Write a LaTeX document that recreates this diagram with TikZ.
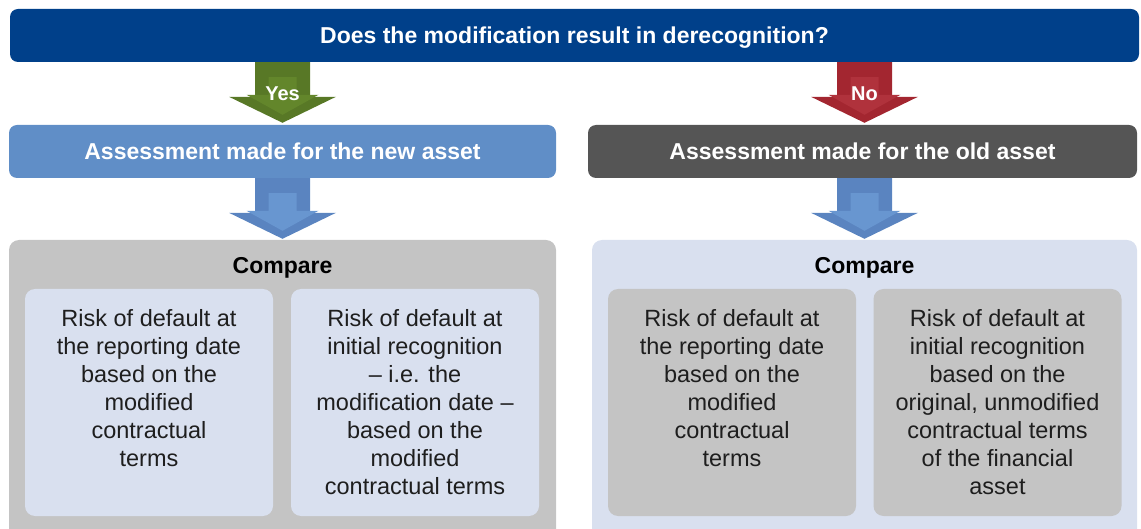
\documentclass[tikz,border=0pt]{standalone}
\usepackage{fontspec}
\setmainfont{Liberation Sans}
\usetikzlibrary{calc}
\definecolor{topblue}{RGB}{0,64,138}
\definecolor{newblue}{RGB}{96,142,199}
\definecolor{oldgray}{RGB}{85,85,85}
\definecolor{boxgray}{RGB}{196,196,196}
\definecolor{paleblue}{RGB}{217,224,239}
\definecolor{yesdark}{RGB}{88,120,38}
\definecolor{yeslight}{RGB}{99,134,43}
\definecolor{nodark}{RGB}{163,38,48}
\definecolor{nolight}{RGB}{176,50,60}
\definecolor{arrdark}{RGB}{90,132,192}
\definecolor{arrlight}{RGB}{104,150,208}
\definecolor{txtgray}{RGB}{30,30,30}
\tikzset{
  head/.style={rounded corners=8pt,inner sep=0,minimum height=53pt,text=white,
    text height=17pt,text depth=0pt,font=\fontsize{23}{28}\selectfont\bfseries},
  frame/.style={rounded corners=10pt,inner sep=0,minimum height=305pt},
  cell/.style={rounded corners=10pt,inner sep=0,minimum width=248pt,minimum height=227pt},
  cmp/.style={inner sep=0,text height=17pt,text depth=0pt,
    font=\fontsize{23}{28}\selectfont\bfseries,text=black},
  txt/.style={inner sep=0,align=center,anchor=north,text=txtgray,
    font=\fontsize{23.5}{28}\selectfont},
  arrlbl/.style={inner sep=0,text=white,text height=14pt,text depth=0pt,
    font=\fontsize{20}{24}\selectfont\bfseries}
}
\newcommand{\blockarrow}[4]{%
  \fill[#3] let \p1=(#1), \p2=(#2) in
    (\x1-27.5pt,\y1) -- (\x1+27.5pt,\y1) -- (\x1+27.5pt,\y2+26pt) -- (\x1+53.5pt,\y2+26pt)
    -- (\x1,\y2) -- (\x1-53.5pt,\y2+26pt) -- (\x1-27.5pt,\y2+26pt) -- cycle;
  \fill[#4] let \p1=(#1), \p2=(#2) in
    (\x1-14pt,\y1-15pt) -- (\x1+14pt,\y1-15pt) -- (\x1+14pt,\y2+28pt) -- (\x1+36pt,\y2+28pt)
    -- (\x1,\y2+8pt) -- (\x1-36pt,\y2+28pt) -- (\x1-14pt,\y2+28pt) -- cycle;
}
\begin{document}
\begin{tikzpicture}[x=1pt,y=-1pt]
\useasboundingbox (0,0) rectangle (1141,529);
\clip (0,0) rectangle (1141,529);

\node[head,fill=topblue,minimum width=1129pt] (q) at (574.5,35.5)
  {Does the modification result in derecognition?};
\node[head,fill=newblue,minimum width=547pt] (newa) at (282.5,151.5)
  {Assessment made for the new asset};
\node[head,fill=oldgray,minimum width=549pt] (olda) at (862.5,151.5)
  {Assessment made for the old asset};

% yes / no
\blockarrow{q.south -| newa.center}{[yshift=2pt]newa.north}{yesdark}{yeslight}
\blockarrow{q.south -| 864.5,0}{[yshift=2pt]olda.north -| 864.5,0}{nodark}{nolight}
\node[arrlbl] (yes) at ($(q.south -| newa.center)!0.5!(newa.north)$) {Yes};
\node[arrlbl] (no) at ($(q.south -| 864.5,0)!0.5!(olda.north -| 864.5,0)$) {No};

% comparison frames
\node[frame,fill=boxgray,minimum width=547pt] (cmpl) at (282.5,392.5) {};
\node[frame,fill=paleblue,minimum width=545pt] (cmpr) at (864.5,392.5) {};
\blockarrow{newa.south}{[yshift=1pt]cmpl.north}{arrdark}{arrlight}
\blockarrow{olda.south -| cmpr.north}{[yshift=1pt]cmpr.north}{arrdark}{arrlight}
\node[cmp] (cmpltxt) at ($(cmpl.north)+(0,25)$) {Compare};
\node[cmp] (cmprtxt) at ($(cmpr.north)+(0,25)$) {Compare};

\node[cell,fill=paleblue] (l1) at (149,402.5) {};
\node[cell,fill=paleblue] (l2) at (415,402.5) {};
\node[cell,fill=boxgray] (r1) at (732,402.5) {};
\node[cell,fill=boxgray] (r2) at (997.5,402.5) {};

\node[txt] (l1t) at ([yshift=-20pt]l1.north)
  {Risk of default at\\the reporting date\\based on the\\modified\\contractual\\terms};
\node[txt] (l2t) at ([yshift=-20pt]l2.north)
  {Risk of default at\\initial recognition\\– i.e. the\\modification date –\\based on the\\modified\\contractual terms};
\node[txt] (r1t) at ([yshift=-20pt]r1.north)
  {Risk of default at\\the reporting date\\based on the\\modified\\contractual\\terms};
\node[txt] (r2t) at ([yshift=-20pt]r2.north)
  {Risk of default at\\initial recognition\\based on the\\original, unmodified\\contractual terms\\of the financial\\asset};
\end{tikzpicture}
\end{document}
